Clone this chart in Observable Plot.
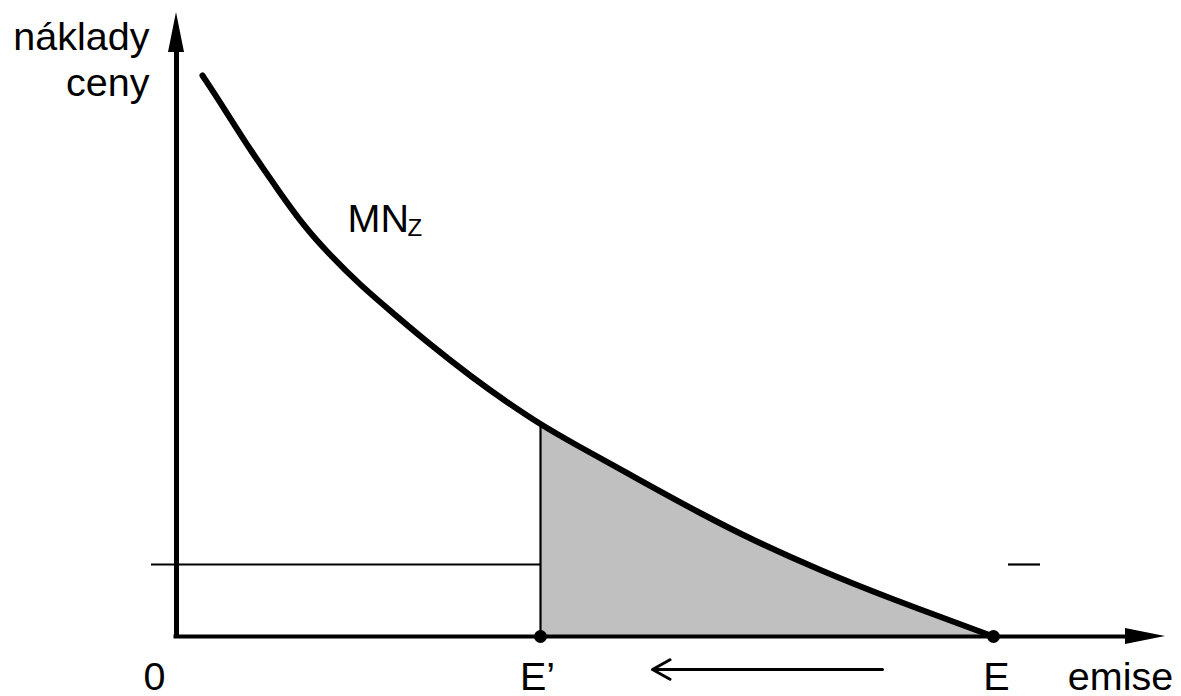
<!DOCTYPE html>
<html>
<head>
<meta charset="utf-8">
<script src="https://cdn.jsdelivr.net/npm/d3@7"></script>
<script src="https://cdn.jsdelivr.net/npm/@observablehq/plot@0.6"></script>
<style>
  html, body { margin: 0; padding: 0; background: #fff; }
  svg { display: block; }
</style>
</head>
<body>
<div id="chart"></div>
<script>
// Curve MN_Z (emise, náklady) in chart units
const curveX = [26, 47, 74, 104, 127, 151, 184, 217, 251, 297, 331, 364, 397, 464, 524, 577, 644, 711, 817];
const curveY = [561, 529, 486, 443, 411, 384, 351, 323, 294, 258, 234, 212, 193, 156, 123, 96, 66, 39, 0];

// Key emission levels
const E_prime = 364;   // E'
const E_full = 817;    // E
const priceLevel = 72; // horizontal price line
const priceLeft = -25;
const shortSeg = [832, 864];

// Axes extents and arrowheads
const xAxisEnd = 949, xArrowTip = 989, arrowHalf = 8;
const yAxisEnd = 584, yArrowTip = 624;

// Bottom arrow (from E towards E')
const moveArrow = {x1: 706, x2: 476, y: -33};

// Labels
const yLabels = [{text: "náklady", x: -27, y: 587}, {text: "ceny", x: -27, y: 541}];
const xLabels = [
  {text: "0", x: -22, y: -53},
  {text: "E\u2019", x: 361, y: -53},
  {text: "E", x: 820, y: -53},
  {text: "emise", x: 944, y: -53}
];
const curveLabel = {main: "MN", sub: "Z", x: 171, y: 405, subX: 231, subY: 401};

const curve = curveX.map((x, i) => ({x, y: curveY[i]}));
const shaded = curve.filter(d => d.x >= E_prime);

const font = "Liberation Sans, Arial, Helvetica, sans-serif";

const plot = Plot.plot({
  width: 1181,
  height: 696,
  margin: 0,
  x: {domain: [-176, 1005], range: [0, 1181], axis: null},
  y: {domain: [-60, 636], range: [696, 0], axis: null},
  style: {fontFamily: font, background: "#fff"},
  marks: [
    // shaded area under curve between E' and E
    Plot.areaY(shaded, {x: "x", y: "y", fill: "#c0c0c0", curve: "basis"}),
    // horizontal price line
    Plot.ruleY([priceLevel], {x1: priceLeft, x2: E_prime, stroke: "black", strokeWidth: 2.2}),
    Plot.ruleY([priceLevel], {x1: shortSeg[0], x2: shortSeg[1], stroke: "black", strokeWidth: 2.2}),
    // vertical at E'
    Plot.ruleX([E_prime], {y1: 0, y2: curveY[curveX.indexOf(E_prime)], stroke: "black", strokeWidth: 2.2}),
    // axes
    Plot.ruleX([0], {y1: -2, y2: yAxisEnd, stroke: "black", strokeWidth: 5}),
    Plot.ruleY([0], {x1: -2.5, x2: xAxisEnd, stroke: "black", strokeWidth: 4}),
    Plot.areaX({length: 2}, {y: [yAxisEnd, yArrowTip], x1: [-arrowHalf, 0], x2: [arrowHalf, 0], fill: "black"}),
    Plot.areaY({length: 2}, {x: [xAxisEnd, xArrowTip], y1: [-arrowHalf, 0], y2: [arrowHalf, 0], fill: "black"}),
    // the curve
    Plot.line(curve, {x: "x", y: "y", stroke: "black", strokeWidth: 6, curve: "basis"}),
    // points E' and E
    Plot.dot([E_prime, E_full], {x: d => d, y: 0, r: 6.5, fill: "black"}),
    // arrow E -> E'
    Plot.arrow([moveArrow], {x1: "x1", x2: "x2", y1: "y", y2: "y", stroke: "black", strokeWidth: 3, headLength: 10, headAngle: 58}),
    // labels
    Plot.text(yLabels, {x: "x", y: "y", text: "text", textAnchor: "end", lineAnchor: "bottom", fontSize: 39.5, fill: "black"}),
    Plot.text(xLabels, {x: "x", y: "y", text: "text", textAnchor: "middle", lineAnchor: "bottom", fontSize: 39.5, fill: "black"}),
    Plot.text([curveLabel], {x: "x", y: "y", text: "main", textAnchor: "start", lineAnchor: "bottom", fontSize: 39.5, fill: "black"}),
    Plot.text([curveLabel], {x: "subX", y: "subY", text: "sub", textAnchor: "start", lineAnchor: "bottom", fontSize: 24, fill: "black"})
  ]
});

document.getElementById("chart").appendChild(plot);
</script>
</body>
</html>
